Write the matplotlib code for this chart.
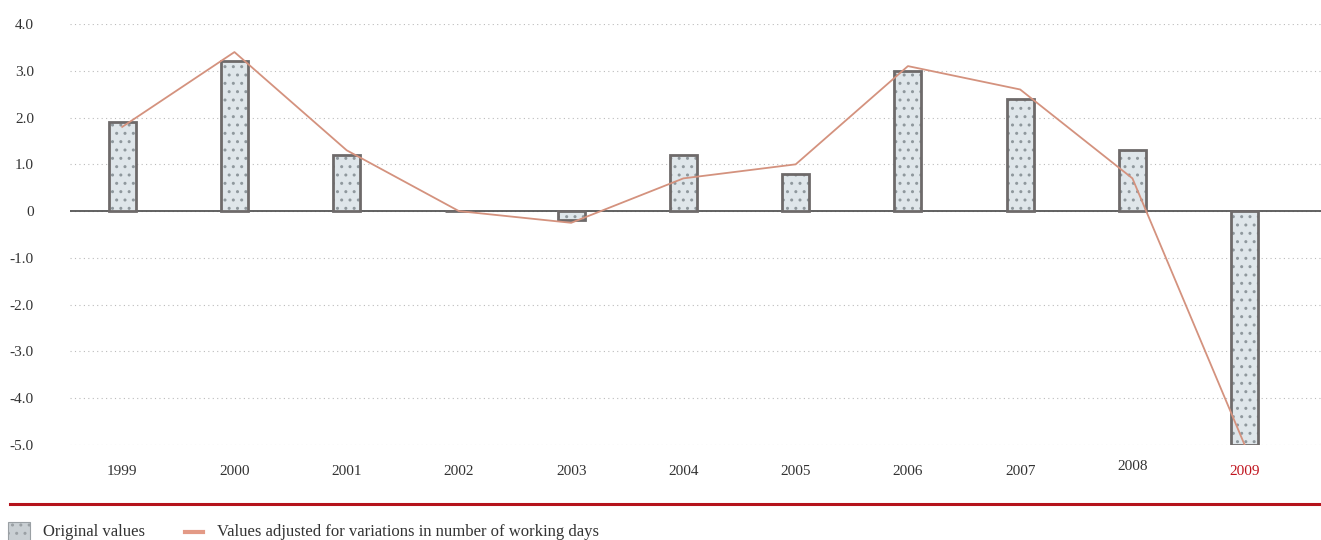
import numpy as np
import matplotlib
matplotlib.use("Agg")
import matplotlib.pyplot as plt
from matplotlib.patches import Rectangle
from matplotlib.lines import Line2D
import matplotlib.transforms as mtransforms

# data
years = ["1999", "2000", "2001", "2002", "2003", "2004", "2005", "2006", "2007", "2008", "2009"]
original = [1.9, 3.2, 1.2, 0.0, -0.2, 1.2, 0.8, 3.0, 2.4, 1.3, -5.0]
adjusted = [1.8, 3.4, 1.3, 0.0, -0.25, 0.7, 1.0, 3.1, 2.6, 0.7, -5.0]
yticks = [4, 3, 2, 1, 0, -1, -2, -3, -4, -5]
ytick_labels = ["4.0", "3.0", "2.0", "1.0", "0", "-1.0", "-2.0", "-3.0", "-4.0", "-5.0"]

plt.rcParams['font.family'] = ['Liberation Serif', 'DejaVu Serif']

W, H = 1321, 540
fig = plt.figure(figsize=(W / 100, H / 100), dpi=100)
ax = fig.add_axes([70 / W, 95 / H, (W - 70) / W, 421 / H])

x = np.arange(len(years))
bar_w = 0.24
# hatched fill then dark outline on top
ax.bar(x, original, width=bar_w, color='#dfe6ea', edgecolor='#8f989d', hatch='..', linewidth=0, zorder=3)
ax.bar(x, original, width=bar_w, fill=False, edgecolor='#6e6a6a', linewidth=2, zorder=4)
ax.plot(x, adjusted, color='#d4927e', linewidth=1.3, zorder=5)

ax.axhline(0, color='#555555', linewidth=1.3, zorder=2)
ax.set_ylim(-5, 4)
ax.set_xlim(-0.465, 10.68)
ax.set_yticks(yticks)
ax.set_yticklabels(ytick_labels, fontsize=11, color='#333333')
ax.tick_params(axis='y', length=0, pad=26)
ax.set_xticks([])
ax.grid(axis='y', linestyle=(0, (1, 3)), color='#bbbbbb', linewidth=0.8, zorder=0)
for s in ax.spines.values():
    s.set_visible(False)

# category labels under the plot
trans = mtransforms.blended_transform_factory(ax.transData, ax.transAxes)
for i, yr in enumerate(years):
    yy = -0.064
    col = '#333333'
    if yr == "2008":
        yy = -0.05
    if yr == "2009":
        col = '#c0141e'
    ax.text(i, yy, yr, transform=trans, ha='center', va='center', fontsize=11, color=col)

# red separator
fig.add_artist(Line2D([10 / W, 1.0], [1 - 504 / H, 1 - 504 / H], color='#b5121b', linewidth=2.2))

# legend drawn by hand
fig.add_artist(Rectangle((8 / W, 1 - 541 / H), 22 / W, 19 / H, facecolor='#c9cfd3',
                         edgecolor='#9aa0a4', hatch='..', linewidth=0.8))
fig.text(43 / W, 1 - 532 / H, "Original values", fontsize=12, color='#333333', va='center')
fig.add_artist(Line2D([185 / W, 203 / W], [1 - 532 / H, 1 - 532 / H], color='#e39a86', linewidth=3))
fig.text(217 / W, 1 - 532 / H, "Values adjusted for variations in number of working days",
         fontsize=12, color='#333333', va='center')

fig.savefig("out.png", dpi=100)
